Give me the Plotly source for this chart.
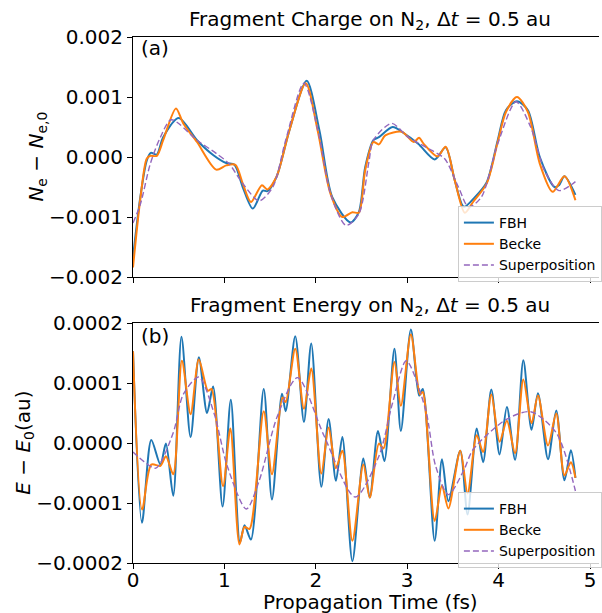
import numpy as np
import plotly.graph_objects as go

# ---------------- data ----------------
# Top panel: fragment charge, values in units of 1e-3
t_charge_fbh = [0.00, 0.08, 0.15, 0.195, 0.26, 0.33, 0.50, 0.70, 0.88, 1.02, 1.11, 1.20, 1.31, 1.42, 1.47,
                1.57, 1.71, 1.90, 2.04, 2.18, 2.38, 2.47, 2.54, 2.63, 2.69, 2.84, 2.96, 3.12, 3.30, 3.42,
                3.52, 3.62, 3.74, 3.87, 3.99, 4.08, 4.20, 4.32, 4.45, 4.61, 4.66, 4.72, 4.84]
charge_fbh = [-1.67, -0.67, -0.06, 0.07, 0.04, 0.33, 0.65, 0.28, 0.03, -0.10, -0.13, -0.50, -0.86, -0.56, -0.57,
              -0.33, 0.44, 1.27, 0.44, -0.67, -1.09, -0.92, -0.17, 0.28, 0.33, 0.50, 0.40, 0.22, -0.04, 0.16,
              -0.39, -0.83, -0.67, -0.42, 0.28, 0.78, 0.93, 0.78, 0.00, -0.50, -0.47, -0.32, -0.63]

t_charge_becke = [0.00, 0.08, 0.15, 0.19, 0.26, 0.33, 0.47, 0.55, 0.70, 0.91, 1.02, 1.12, 1.20, 1.29, 1.41,
                  1.47, 1.57, 1.71, 1.89, 2.02, 2.16, 2.29, 2.40, 2.47, 2.54, 2.63, 2.69, 2.76, 2.94, 3.07,
                  3.13, 3.18, 3.33, 3.42, 3.52, 3.63, 3.72, 3.87, 3.99, 4.08, 4.20, 4.32, 4.45, 4.59, 4.72, 4.84]
charge_becke = [-1.84, -0.70, -0.03, 0.02, 0.02, 0.28, 0.81, 0.56, 0.25, -0.21, -0.14, -0.13, -0.44, -0.75, -0.47,
                -0.54, -0.33, 0.44, 1.23, 0.44, -0.61, -1.00, -0.92, -0.93, -0.22, 0.25, 0.21, 0.36, 0.42, 0.25,
                0.32, 0.22, 0.01, 0.17, -0.39, -0.93, -0.75, -0.44, 0.25, 0.75, 1.00, 0.75, -0.11, -0.58, -0.32, -0.72]

t_charge_sup = [0.00, 0.08, 0.19, 0.30, 0.42, 0.70, 0.91, 1.05, 1.20, 1.38, 1.53, 1.67, 1.87, 2.03, 2.16,
                2.33, 2.47, 2.58, 2.63, 2.83, 3.01, 3.27, 3.41, 3.56, 3.67, 3.81, 3.99, 4.19, 4.35, 4.50,
                4.66, 4.84]
charge_sup = [-1.10, -0.79, -0.11, 0.33, 0.62, 0.28, 0.06, -0.11, -0.44, -0.73, -0.50, 0.28, 1.23, 0.39, -0.61,
              -1.14, -0.95, -0.09, 0.28, 0.56, 0.33, 0.11, -0.03, -0.50, -0.83, -0.67, 0.22, 0.92, 0.50, -0.22,
              -0.56, -0.41]

# Bottom panel: fragment energy, values in units of 1e-4 au
t_energy_fbh = [0.00, 0.098, 0.20, 0.30, 0.36, 0.44, 0.53, 0.63, 0.72, 0.81, 0.876, 0.98, 1.07, 1.17, 1.22,
                1.29, 1.43, 1.52, 1.63, 1.67, 1.775, 1.87, 1.95, 2.06, 2.14, 2.22, 2.29, 2.40, 2.52, 2.59,
                2.68, 2.75, 2.86, 2.93, 3.04, 3.13, 3.17, 3.30, 3.38, 3.45, 3.58, 3.66, 3.76, 3.83, 3.92,
                4.01, 4.09, 4.18, 4.27, 4.36, 4.43, 4.54, 4.63, 4.72, 4.79, 4.84]
energy_fbh = [1.53, -1.33, 0.05, -0.36, -0.01, -0.88, 1.77, 0.10, 1.43, 0.50, 0.94, -1.06, 0.72, -1.66, -1.37,
              -1.61, 0.90, -0.94, 0.82, 0.53, 1.78, 0.35, 1.66, -0.73, 0.40, -0.63, 0.10, -1.97, -0.26, -0.91,
              0.20, -0.30, 1.57, 0.20, 1.89, 0.79, 0.90, -1.63, -0.27, -0.97, -0.13, -1.19, 0.24, -0.32, 0.89,
              -0.19, 0.60, -0.28, 1.38, 0.22, 0.83, -0.27, 0.54, -0.62, -0.12, -0.58]

t_energy_becke = [0.00, 0.10, 0.20, 0.30, 0.36, 0.44, 0.535, 0.63, 0.72, 0.82, 0.86, 0.985, 1.065, 1.165, 1.22,
                  1.275, 1.43, 1.52, 1.635, 1.67, 1.775, 1.87, 1.95, 2.06, 2.14, 2.22, 2.29, 2.40, 2.52, 2.59,
                  2.69, 2.74, 2.86, 2.93, 3.04, 3.14, 3.17, 3.30, 3.38, 3.45, 3.58, 3.66, 3.76, 3.83, 3.92,
                  4.01, 4.09, 4.18, 4.27, 4.36, 4.43, 4.54, 4.63, 4.72, 4.79, 4.84]
energy_becke = [1.53, -1.11, -0.36, -0.38, -0.22, -0.52, 1.37, 0.48, 1.39, 0.87, 0.90, -0.72, 0.24, -1.69, -1.40,
                -1.43, 0.53, -0.52, 0.76, 0.68, 1.57, 0.57, 1.24, -0.51, 0.26, -0.42, -0.13, -1.63, -0.36, -0.91,
                -0.01, -0.09, 1.35, 0.62, 1.81, 0.81, 0.85, -1.30, -0.71, -1.09, -0.13, -0.84, 0.13, -0.15, 0.81,
                0.02, 0.37, -0.17, 1.06, 0.33, 0.79, -0.04, 0.49, -0.54, -0.32, -0.58]

t_energy_sup = [0.00, 0.12, 0.25, 0.44, 0.55, 0.72, 0.89, 1.03, 1.24, 1.38, 1.58, 1.80, 2.09, 2.43, 2.69,
                2.84, 2.99, 3.20, 3.31, 3.45, 3.62, 3.72, 4.08, 4.35, 4.63, 4.84]
energy_sup = [-0.15, -0.31, -0.42, 0.17, 0.81, 1.10, 0.48, -0.38, -1.10, -0.63, 0.45, 1.09, 0.12, -0.90, -0.22,
              0.67, 1.37, 0.56, -0.38, -0.86, -0.45, -0.11, 0.39, 0.52, 0.17, -0.80]

charge_ticks = [0.002, 0.001, 0.0, -0.001, -0.002]
energy_ticks = [0.0002, 0.0001, 0.0, -0.0001, -0.0002]
time_ticks = [0, 1, 2, 3, 4, 5]

CHARGE_UNIT = 1e-3
ENERGY_UNIT = 1e-4

# ---------------- figure ----------------
BLUE, ORANGE, PURPLE = "#1f77b4", "#ff7f0e", "#9467bd"
FONT = "DejaVu Sans"
W, H = 602, 613
ML, MR, MT, MB = 133, 0, 37, 50
PH = H - MT - MB
PW = W - ML - MR
DASH = "6px,3px"


def py(pix):
    return (H - MB - pix) / PH


def px(pix):
    return (pix - ML) / PW


fig = go.Figure()


def add(t, v, unit, name, color, dash, xaxis, yaxis, legend, width):
    fig.add_trace(go.Scatter(
        x=t, y=np.array(v) * unit, mode="lines", name=name,
        line=dict(color=color, width=width, dash=dash, shape="spline", smoothing=0.8),
        xaxis=xaxis, yaxis=yaxis, legend=legend, showlegend=True))


add(t_charge_fbh, charge_fbh, CHARGE_UNIT, "FBH", BLUE, "solid", "x2", "y", "legend", 2)
add(t_charge_becke, charge_becke, CHARGE_UNIT, "Becke", ORANGE, "solid", "x2", "y", "legend", 2)
add(t_charge_sup, charge_sup, CHARGE_UNIT, "Superposition", PURPLE, DASH, "x2", "y", "legend", 1.4)

add(t_energy_fbh, energy_fbh, ENERGY_UNIT, "FBH", BLUE, "solid", "x", "y2", "legend2", 2)
add(t_energy_becke, energy_becke, ENERGY_UNIT, "Becke", ORANGE, "solid", "x", "y2", "legend2", 2)
add(t_energy_sup, energy_sup, ENERGY_UNIT, "Superposition", PURPLE, DASH, "x", "y2", "legend2", 1.4)

xr = [0, PW / 92.0]
axis_common = dict(showline=True, linecolor="black", linewidth=1, ticks="outside", ticklen=5,
                   tickcolor="black", tickwidth=1, showgrid=False, zeroline=False,
                   tickfont=dict(family=FONT, size=20, color="black"))

top_dom = [py(277), 1.0]
bot_dom = [0.0, py(323)]

legend_style = dict(xanchor="left", yanchor="top", bgcolor="rgba(255,255,255,0.8)",
                    bordercolor="#cccccc", borderwidth=1,
                    font=dict(family=FONT, size=14, color="black"), tracegroupgap=0)

fig.update_layout(
    width=W, height=H, margin=dict(l=ML, r=MR, t=MT, b=MB),
    paper_bgcolor="white", plot_bgcolor="white",
    font=dict(family=FONT, color="black"),
    xaxis=dict(range=xr, domain=[0, 1], anchor="y2", tickvals=time_ticks, mirror=True,
               ticklabelstandoff=-6, **axis_common),
    xaxis2=dict(range=xr, domain=[0, 1], anchor="y", tickvals=time_ticks, showticklabels=False,
                mirror=True, matches="x", **axis_common),
    yaxis=dict(range=[-0.002, 0.002], domain=top_dom, anchor="x2", tickvals=charge_ticks,
               tickformat=".3f", **axis_common),
    yaxis2=dict(range=[-0.0002, 0.0002], domain=bot_dom, anchor="x", tickvals=energy_ticks,
                tickformat=".4f", **axis_common),
    legend=dict(x=px(460), y=py(206), **legend_style),
    legend2=dict(x=px(460), y=py(492), **legend_style),
    showlegend=True,
)

ann = dict(xref="paper", yref="paper", showarrow=False, font=dict(family=FONT, size=20, color="black"))
fig.add_annotation(text="Fragment Charge on N<sub>2</sub>, Δ<i>t</i> = 0.5 au", x=px(372), y=py(20),
                   xanchor="center", yanchor="middle", **ann)
fig.add_annotation(text="Fragment Energy on N<sub>2</sub>, Δ<i>t</i> = 0.5 au", x=px(372), y=py(306),
                   xanchor="center", yanchor="middle", **ann)
fig.add_annotation(text="(a)", x=px(155), y=py(48), xanchor="center", yanchor="middle", **ann)
fig.add_annotation(text="(b)", x=px(155), y=py(336), xanchor="center", yanchor="middle", **ann)
fig.add_annotation(text="Propagation Time (fs)", x=px(372.5), y=py(602), xanchor="center",
                   yanchor="middle", **ann)
fig.add_annotation(text="<i>N</i><sub>e</sub> − <i>N</i><sub>e,0</sub>", x=px(36), y=py(157),
                   xanchor="center", yanchor="middle", textangle=-90, **ann)
fig.add_annotation(text="<i>E</i> − <i>E</i><sub>0</sub>(au)", x=px(23), y=py(443),
                   xanchor="center", yanchor="middle", textangle=-90, **ann)

fig.write_html("out.html")
